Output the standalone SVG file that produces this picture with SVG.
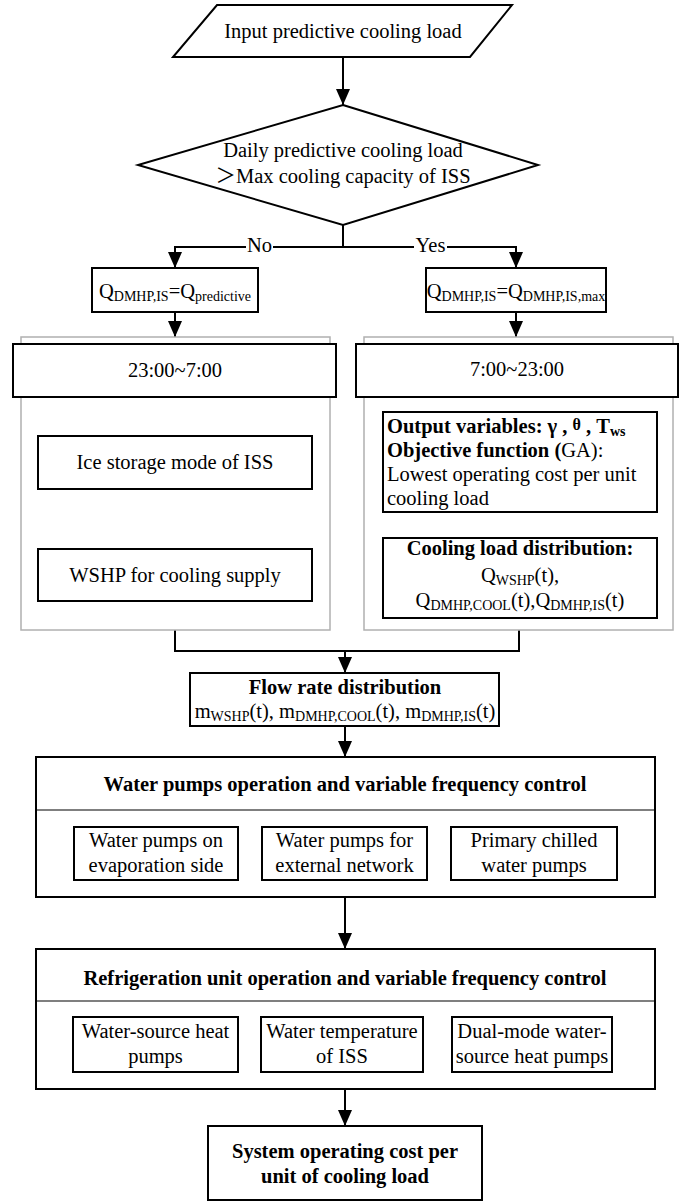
<svg xmlns="http://www.w3.org/2000/svg" width="686" height="1202" viewBox="0 0 686 1202">
<style>
  text { font-family: "Liberation Serif", "Times New Roman", "Noto Sans CJK SC", serif; font-size: 20.5px; fill: #000; }
  .c { text-anchor: middle; }
  .b { font-weight: bold; }
  .sub { font-size: 14px; }
  .box { fill: #fff; stroke: #000; stroke-width: 2; }
  .grp { fill: #fff; stroke: #b0b0b0; stroke-width: 1.5; }
  .div { stroke: #000; stroke-width: 1.2; fill: none; }
  .con { fill: none; stroke: #000; stroke-width: 2; }
</style>
<defs>
  <marker id="arr" markerUnits="userSpaceOnUse" markerWidth="16" markerHeight="14" refX="16" refY="7" orient="auto">
    <path d="M0,0 L16,7 L0,14 Z" fill="#000"/>
  </marker>
</defs>
<rect width="686" height="1202" fill="#fff"/>

<g id="connectors">
  <line class="con" x1="343" y1="57" x2="343" y2="105" marker-end="url(#arr)"/>
  <polyline class="con" points="343,225 343,247 175,247 175,268" marker-end="url(#arr)"/>
  <polyline class="con" points="343,247 516,247 516,268" marker-end="url(#arr)"/>
  <line class="con" x1="175" y1="312" x2="175" y2="337" marker-end="url(#arr)"/>
  <line class="con" x1="516" y1="312" x2="516" y2="337" marker-end="url(#arr)"/>
  <line class="con" x1="175" y1="489" x2="175" y2="549" marker-end="url(#arr)"/>
  <line class="con" x1="519" y1="512" x2="519" y2="538" marker-end="url(#arr)"/>
  <polyline class="con" points="175,630 175,651 519,651 519,630"/>
  <line class="con" x1="345" y1="651" x2="345" y2="673" marker-end="url(#arr)"/>
  <line class="con" x1="345" y1="726" x2="345" y2="757" marker-end="url(#arr)"/>
  <line class="con" x1="345" y1="897" x2="345" y2="949" marker-end="url(#arr)"/>
  <line class="con" x1="345" y1="1089" x2="345" y2="1126" marker-end="url(#arr)"/>
  <g id="label-no">
    <rect x="246" y="236" width="27" height="20" fill="#fff"/>
    <text class="c" x="259.5" y="252">No</text>
  </g>
  <g id="label-yes">
    <rect x="414" y="236" width="33" height="20" fill="#fff"/>
    <text class="c" x="430.5" y="252">Yes</text>
  </g>
</g>

<g id="input">
  <polygon class="box" points="217,5 512,5 470,57 173,57"/>
  <text class="c" x="343" y="38">Input predictive cooling load</text>
</g>

<g id="decision">
  <polygon class="box" points="343,105 538,165 343,225 138,165"/>
  <text class="c" x="343" y="157">Daily predictive cooling load</text>
  <text class="c" x="343" y="183">＞Max cooling capacity of ISS</text>
</g>

<g id="q-no">
  <rect class="box" x="92" y="268" width="166" height="44"/>
  <text class="c" x="175" y="298">Q<tspan class="sub" dy="3">DMHP,IS</tspan><tspan dy="-3">=Q</tspan><tspan class="sub" dy="3">predictive</tspan></text>
</g>

<g id="q-yes">
  <rect class="box" x="426" y="268" width="180" height="44"/>
  <text class="c" x="516" y="298">Q<tspan class="sub" dy="3">DMHP,IS</tspan><tspan dy="-3">=Q</tspan><tspan class="sub" dy="3">DMHP,IS,max</tspan></text>
</g>

<g id="night">
  <rect class="grp" x="21" y="337" width="309" height="293"/>
  <rect class="box" x="13" y="344" width="323" height="53"/>
  <text class="c" x="175" y="377">23:00~7:00</text>
</g>

<g id="ice-storage">
  <rect class="box" x="38" y="436" width="274" height="53"/>
  <text class="c" x="175" y="469">Ice storage mode of ISS</text>
</g>

<g id="wshp-supply">
  <rect class="box" x="38" y="549" width="274" height="52"/>
  <text class="c" x="175" y="582">WSHP for cooling supply</text>
</g>

<g id="day">
  <rect class="grp" x="364" y="337" width="309" height="293"/>
  <rect class="box" x="356" y="344" width="322" height="53"/>
  <text class="c" x="517" y="376">7:00~23:00</text>
</g>

<g id="optimization">
  <rect class="box" x="383" y="412" width="274" height="100"/>
  <text x="387" y="433"><tspan class="b">Output variables: γ , </tspan><tspan class="b" font-size="16" dy="-3">θ</tspan><tspan class="b" dy="3"> , T</tspan><tspan class="sub b" dy="3">ws</tspan></text>
  <text x="387" y="457"><tspan class="b">Objective function (</tspan>GA):</text>
  <text x="387" y="481">Lowest operating cost per unit</text>
  <text x="387" y="505">cooling load</text>
</g>

<g id="load-distribution">
  <rect class="box" x="383" y="538" width="274" height="80"/>
  <text class="c b" x="520" y="555">Cooling load distribution:</text>
  <text class="c" x="520" y="582">Q<tspan class="sub" dy="3">WSHP</tspan><tspan dy="-3">(t),</tspan></text>
  <text class="c" x="520" y="607">Q<tspan class="sub" dy="3">DMHP,COOL</tspan><tspan dy="-3">(t),Q</tspan><tspan class="sub" dy="3">DMHP,IS</tspan><tspan dy="-3">(t)</tspan></text>
</g>

<g id="flow-rate">
  <rect class="box" x="190" y="673" width="309" height="53"/>
  <text class="c b" x="345" y="694">Flow rate distribution</text>
  <text class="c" x="345" y="718">m<tspan class="sub" dy="3">WSHP</tspan><tspan dy="-3">(t), m</tspan><tspan class="sub" dy="3">DMHP,COOL</tspan><tspan dy="-3">(t), m</tspan><tspan class="sub" dy="3">DMHP,IS</tspan><tspan dy="-3">(t)</tspan></text>
</g>

<g id="pumps">
  <rect class="box" x="36" y="757" width="619" height="140"/>
  <line class="div" x1="36" y1="810" x2="655" y2="810"/>
  <text class="c b" x="345" y="791">Water pumps operation and variable frequency control</text>
</g>
<g id="pump-evap">
  <rect class="box" x="74" y="827" width="164" height="53"/>
  <text class="c" x="156" y="847">Water pumps on</text>
  <text class="c" x="156" y="872">evaporation side</text>
</g>
<g id="pump-external">
  <rect class="box" x="262" y="827" width="165" height="53"/>
  <text class="c" x="344.5" y="847">Water pumps for</text>
  <text class="c" x="344.5" y="872">external network</text>
</g>
<g id="pump-primary">
  <rect class="box" x="451" y="827" width="166" height="53"/>
  <text class="c" x="534" y="847">Primary chilled</text>
  <text class="c" x="534" y="872">water pumps</text>
</g>

<g id="refrigeration">
  <rect class="box" x="36" y="949" width="619" height="140"/>
  <line class="div" x1="36" y1="1001" x2="655" y2="1001"/>
  <text class="c b" x="345" y="985">Refrigeration unit operation and variable frequency control</text>
</g>
<g id="ref-wshp">
  <rect class="box" x="73" y="1017" width="165" height="55"/>
  <text class="c" x="155.5" y="1038">Water-source heat</text>
  <text class="c" x="155.5" y="1063">pumps</text>
</g>
<g id="ref-iss">
  <rect class="box" x="261" y="1017" width="162" height="55"/>
  <text class="c" x="342" y="1038">Water temperature</text>
  <text class="c" x="342" y="1063">of ISS</text>
</g>
<g id="ref-dmhp">
  <rect class="box" x="452" y="1017" width="160" height="55"/>
  <text class="c" x="532" y="1038">Dual-mode water-</text>
  <text class="c" x="532" y="1063">source heat pumps</text>
</g>

<g id="cost">
  <rect class="box" x="208" y="1126" width="274" height="74"/>
  <text class="c b" x="345" y="1158">System operating cost per</text>
  <text class="c b" x="345" y="1183">unit of cooling load</text>
</g>
</svg>
